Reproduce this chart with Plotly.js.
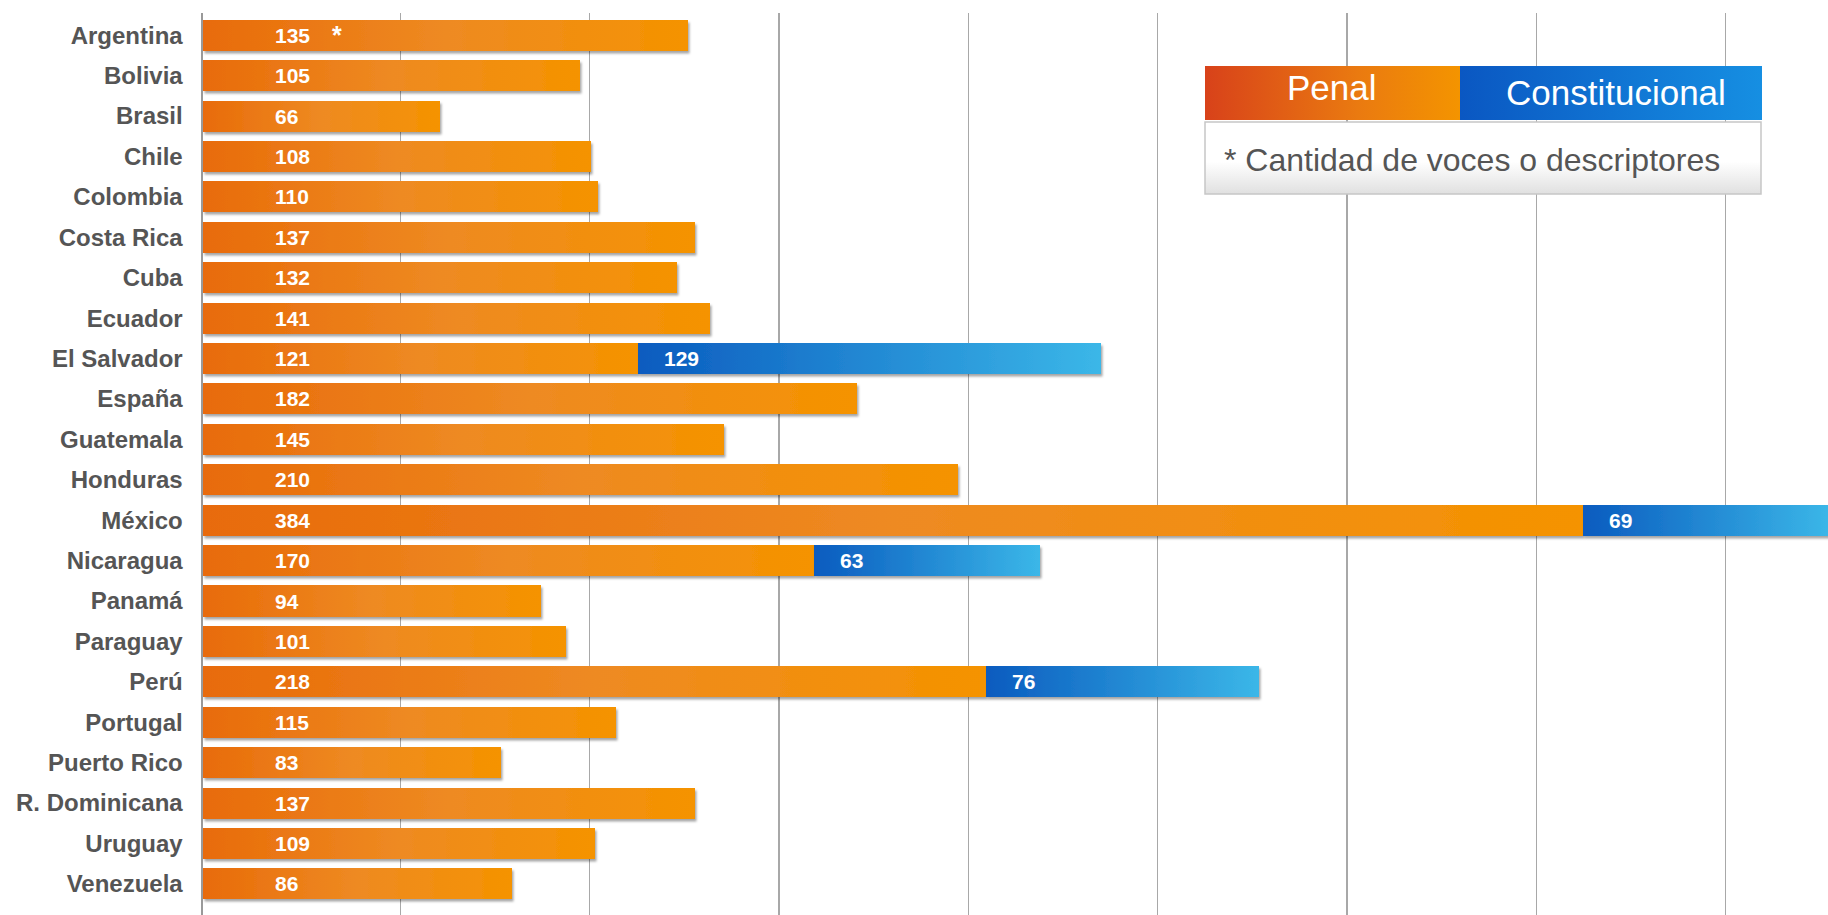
<!DOCTYPE html>
<html><head><meta charset="utf-8">
<script src="https://cdn.plot.ly/plotly-3.0.1.min.js"></script>
<style>html,body{margin:0;padding:0;background:#fff;overflow:hidden;} #chart{width:1828px;height:915px;}</style>
</head><body><div id="chart"></div>
<script>
const categories = ['Argentina','Bolivia','Brasil','Chile','Colombia','Costa Rica','Cuba','Ecuador','El Salvador','España','Guatemala','Honduras','México','Nicaragua','Panamá','Paraguay','Perú','Portugal','Puerto Rico','R. Dominicana','Uruguay','Venezuela'];
const penal = [135,105,66,108,110,137,132,141,121,182,145,210,384,170,94,101,218,115,83,137,109,86];
const constitucional = [null,null,null,null,null,null,null,null,129,null,null,null,69,63,null,null,76,null,null,null,null,null];
const seriesNames = ['Penal','Constitucional'];
const footnoteText = 'Cantidad de voces o descriptores';
const markedCategory = 'Argentina';

const W = 1828, H = 915;
const plotL = 203, plotT = 13;
const pxPerUnit = 3.593;
const xMax = (W - plotL) / pxPerUnit;
const gridVals = Array.from({length: 8}, (_, i) => 54.9 + i * 52.7);
const px = v => (v - plotL) / (W - plotL);
const py = v => 1 - (v - plotT) / (H - plotT);

const traces = [
  {type:'bar', orientation:'h', name:seriesNames[0], y:categories, x:penal,
   marker:{color:'#ef8417', line:{width:0}}, hoverinfo:'x+y'},
  {type:'bar', orientation:'h', name:seriesNames[1], y:categories, x:constitucional,
   marker:{color:'#1a7fd4', line:{width:0}}, hoverinfo:'x+y'}
];

const valFont = {family:'Liberation Sans, Arial, sans-serif', size:21, color:'#ffffff', weight:'bold'};
const annotations = [];
categories.forEach((c, i) => {
  annotations.push({x:0, y:c, xref:'x', yref:'y', text:String(penal[i]), showarrow:false,
    xanchor:'left', xshift:70, font:valFont});
  if (constitucional[i] != null) {
    annotations.push({x:penal[i], y:c, xref:'x', yref:'y', text:String(constitucional[i]), showarrow:false,
      xanchor:'left', xshift:24, font:valFont});
  }
});
annotations.push({x:0, y:markedCategory, xref:'x', yref:'y', text:'*', showarrow:false,
  xanchor:'center', xshift:134, yshift:0, font:{family:'Liberation Sans, Arial, sans-serif', size:25, color:'#ffffff', weight:'bold'}});
// legend texts
annotations.push({x:px(1332), y:py(88), xref:'paper', yref:'paper', text:seriesNames[0], showarrow:false,
  xanchor:'center', yanchor:'middle', font:{family:'Liberation Sans, Arial, sans-serif', size:35, color:'#ffffff'}});
annotations.push({x:px(1616), y:py(92), xref:'paper', yref:'paper', text:seriesNames[1], showarrow:false,
  xanchor:'center', yanchor:'middle', font:{family:'Liberation Sans, Arial, sans-serif', size:35, color:'#ffffff'}});
annotations.push({x:px(1222), y:py(160), xref:'paper', yref:'paper', text:'* ' + footnoteText, showarrow:false,
  xanchor:'left', yanchor:'middle', font:{family:'Liberation Sans, Arial, sans-serif', size:32, color:'#555555'}});

const shapes = [
  {type:'rect', xref:'paper', yref:'paper', x0:px(1205), x1:px(1460), y0:py(120), y1:py(66), fillcolor:'#e86a14', line:{width:0}, layer:'above'},
  {type:'rect', xref:'paper', yref:'paper', x0:px(1460), x1:px(1762), y0:py(120), y1:py(66), fillcolor:'#0f72d2', line:{width:0}, layer:'above'},
  {type:'rect', xref:'paper', yref:'paper', x0:px(1205), x1:px(1761), y0:py(194), y1:py(122), fillcolor:'#f6f6f6', line:{width:1.5, color:'#c6c6c6'}, layer:'above'}
];

const layout = {
  width:W, height:H,
  margin:{l:plotL, r:0, t:plotT, b:0, pad:0},
  paper_bgcolor:'#ffffff', plot_bgcolor:'#ffffff',
  barmode:'stack', bargap:0.232, showlegend:false,
  xaxis:{range:[0, xMax], tickmode:'array', tickvals:gridVals, showticklabels:false,
    showgrid:true, gridcolor:'#a8a8a8', gridwidth:1.5, zeroline:false, showline:false, fixedrange:true},
  yaxis:{type:'category', range:[categories.length - 1 + 0.77, -0.55], showgrid:false, zeroline:false,
    showline:true, linecolor:'#999999', linewidth:2.5, ticks:'', ticklabelstandoff:13,
    tickfont:{family:'Liberation Sans, Arial, sans-serif', size:24, color:'#555555', weight:'bold'}, fixedrange:true},
  annotations:annotations, shapes:shapes
};

function addGradients(gd){
  const svg = gd.querySelector('svg.main-svg');
  const NS = 'http://www.w3.org/2000/svg';
  const defs = document.createElementNS(NS, 'defs');
  function grad(id, stops, vertical){
    const g = document.createElementNS(NS, 'linearGradient');
    g.setAttribute('id', id);
    g.setAttribute('x1','0'); g.setAttribute('y1','0');
    g.setAttribute('x2', vertical ? '0' : '1'); g.setAttribute('y2', vertical ? '1' : '0');
    stops.forEach(s => {
      const st = document.createElementNS(NS, 'stop');
      st.setAttribute('offset', s[0]); st.setAttribute('stop-color', s[1]);
      g.appendChild(st);
    });
    defs.appendChild(g);
  }
  grad('gPenal', [[0,'#e86b09'],[0.5,'#ee8a22'],[1,'#f59300']]);
  grad('gConst', [[0,'#0a5bbf'],[1,'#3bb7e8']]);
  grad('gLegPenal', [[0,'#d8421a'],[0.6,'#ea7a10'],[1,'#f49400']]);
  grad('gLegConst', [[0,'#0a57c2'],[1,'#168fe2']]);
  grad('gBox', [[0,'#ffffff'],[0.55,'#ffffff'],[1,'#e0e0e0']], true);
  const f = document.createElementNS(NS, 'filter');
  f.setAttribute('id','shadow');
  f.setAttribute('x','-5%'); f.setAttribute('y','-20%'); f.setAttribute('width','112%'); f.setAttribute('height','150%');
  const ds = document.createElementNS(NS, 'feDropShadow');
  ds.setAttribute('dx','1.5'); ds.setAttribute('dy','2.5'); ds.setAttribute('stdDeviation','1.3');
  ds.setAttribute('flood-color','#000'); ds.setAttribute('flood-opacity','0.35');
  f.appendChild(ds); defs.appendChild(f);
  svg.appendChild(defs);

  const barTraces = gd.querySelectorAll('.barlayer .trace');
  barTraces.forEach((t, i) => {
    t.querySelectorAll('path').forEach(p => {
      p.style.fill = i === 0 ? 'url(#gPenal)' : 'url(#gConst)';
      p.style.filter = 'url(#shadow)';
    });
  });
  const fills = ['url(#gLegPenal)','url(#gLegConst)','url(#gBox)'];
  fills.forEach((fl, i) => {
    const p = gd.querySelector('.shapelayer path[data-index="' + i + '"]');
    if (p) p.style.fill = fl;
  });
}

Plotly.newPlot('chart', traces, layout, {displayModeBar:false, staticPlot:true}).then(addGradients);
</script>
</body></html>
